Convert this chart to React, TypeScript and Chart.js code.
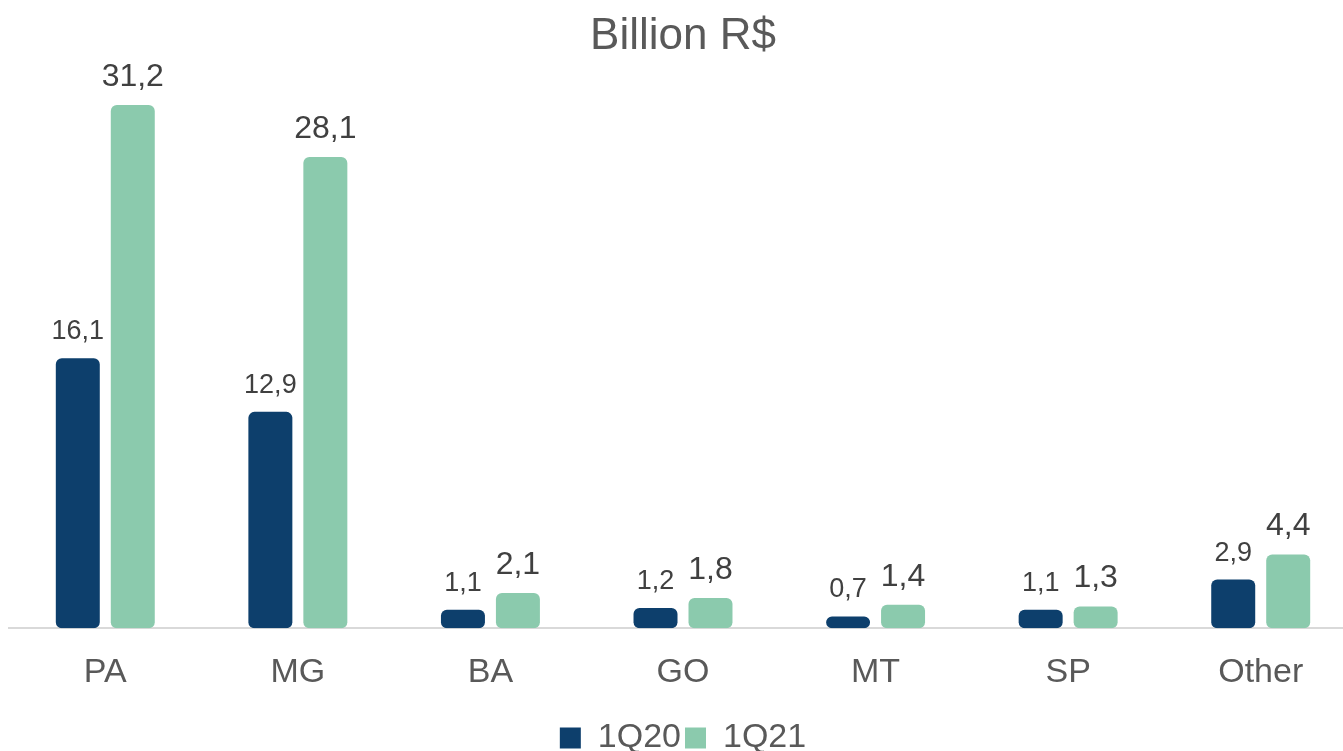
import React, { useEffect, useRef } from "react";
import { Chart, registerables } from "chart.js";

Chart.register(...registerables);

const categories = ["PA", "MG", "BA", "GO", "MT", "SP", "Other"];
const series1Q20 = [16.1, 12.9, 1.1, 1.2, 0.7, 1.1, 2.9];
const series1Q21 = [31.2, 28.1, 2.1, 1.8, 1.4, 1.3, 4.4];
const seriesNames = ["1Q20", "1Q21"];
const titleText = "Billion R$";

const NAVY = "#0D3F6C";
const GREEN = "#8BCAAD";
const FONT = "'Liberation Sans', Arial, sans-serif";

const valueLabels = {
  id: "valueLabels",
  afterDatasetsDraw(chart: any) {
    const ctx = chart.ctx;
    ctx.save();
    chart.data.datasets.forEach((ds: any, di: number) => {
      const meta = chart.getDatasetMeta(di);
      const size = di === 0 ? 27 : 32;
      ctx.font = `${size}px ${FONT}`;
      ctx.fillStyle = "#404040";
      ctx.textAlign = "center";
      ctx.textBaseline = "alphabetic";
      meta.data.forEach((el: any, i: number) => {
        const v = ds.data[i] as number;
        const txt = v.toFixed(1).replace(".", ",");
        ctx.fillText(txt, el.x, el.y - 19);
      });
    });
    ctx.restore();
  },
};

export default function App() {
  const ref = useRef<HTMLCanvasElement | null>(null);
  useEffect(() => {
    if (!ref.current) return;
    const chart = new Chart(ref.current, {
      type: "bar",
      data: {
        labels: categories,
        datasets: [
          {
            label: seriesNames[0],
            data: series1Q20,
            backgroundColor: NAVY,
            borderRadius: 6,
            borderSkipped: false,
            categoryPercentage: 0.571,
            barPercentage: 0.8,
          },
          {
            label: seriesNames[1],
            data: series1Q21,
            backgroundColor: GREEN,
            borderRadius: 6,
            borderSkipped: false,
            categoryPercentage: 0.571,
            barPercentage: 0.8,
          },
        ],
      },
      options: {
        responsive: false,
        animation: false,
        devicePixelRatio: 1,
        layout: { padding: { left: 9, right: 0, top: 0, bottom: 0 } },
        plugins: {
          title: {
            display: true,
            text: titleText,
            color: "#595959",
            font: { family: FONT, size: 44, weight: "normal" },
            padding: { top: 10, bottom: 12 },
          },
          legend: {
            display: true,
            position: "bottom",
            labels: {
              color: "#595959",
              font: { family: FONT, size: 34 },
              boxWidth: 21,
              boxHeight: 21,
              padding: 4,
            },
          },
          tooltip: { enabled: false },
        },
        scales: {
          x: {
            grid: { display: false, drawTicks: false },
            border: { display: true, color: "#D9D9D9", width: 2 },
            ticks: {
              color: "#595959",
              font: { family: FONT, size: 34 },
              padding: 24,
            },
          },
          y: {
            display: false,
            min: 0,
            max: 33,
          },
        },
      },
      plugins: [valueLabels],
    });
    return () => chart.destroy();
  }, []);

  return (
    <div
      style={{
        position: "absolute",
        left: 0,
        top: 0,
        width: 1343,
        height: 751,
        overflow: "hidden",
        background: "#fff",
      }}
    >
      <canvas ref={ref} width={1357} height={765} />
    </div>
  );
}
